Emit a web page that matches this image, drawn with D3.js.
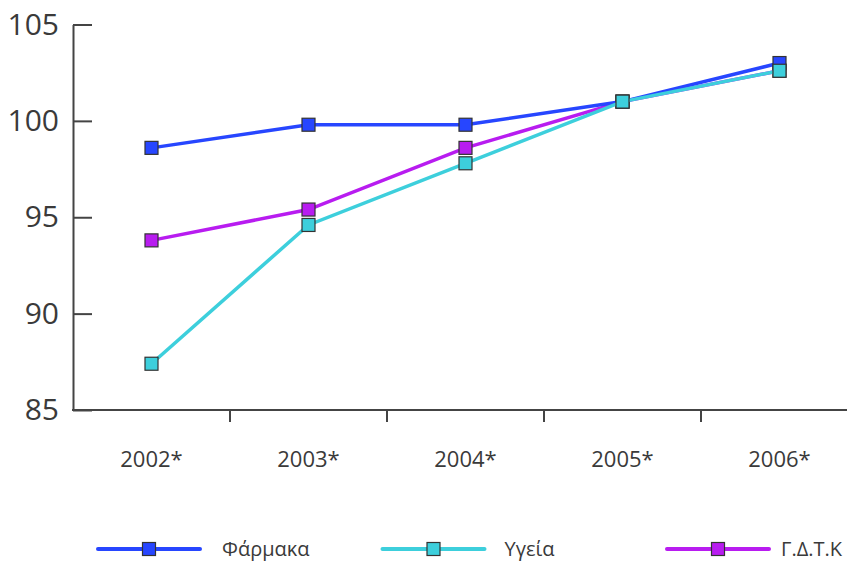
<!DOCTYPE html>
<html>
<head>
<meta charset="utf-8">
<script src="https://cdn.jsdelivr.net/npm/d3@7"></script>
<style>
  body { margin: 0; background: #fff; }
  svg { display: block; font-family: "Open Sans", sans-serif; }
</style>
</head>
<body>
<svg id="chart" width="847" height="561"></svg>
<script>
// values
var years = ["2002*", "2003*", "2004*", "2005*", "2006*"];
var farmaka = [98.6, 99.8, 99.8, 101.0, 103.0];
var ygeia = [87.4, 94.6, 97.8, 101.0, 102.6];
var gdtk = [93.8, 95.4, 98.6, 101.0, 102.6];
var yTicks = [85, 90, 95, 100, 105];

var series = [
    { name: "Φάρμακα", values: farmaka, color: "#2746ff", dx: 124 },
    { name: "Υγεία", values: ygeia, color: "#3dcfdc", dx: 122 },
    { name: "Γ.Δ.Τ.Κ", values: gdtk, color: "#b81cf0", dx: 114 }
];

var width = 847,
    height = 561,
    left = 73,
    axisColor = "#444",
    textColor = "#3a3a3a";

var svg = d3.select("#chart");

var x = d3.scaleBand()
    .domain(years)
    .range([left, left + 157 * years.length])
    .paddingInner(0)
    .paddingOuter(0);

var y = d3.scaleLinear()
    .domain([85, 105])
    .range([410, 24.5]);

function cx(i) { return x(years[i]) + x.bandwidth() / 2; }

// y axis
var yAxis = svg.append("g")
    .attr("transform", "translate(" + left + ",0)")
    .call(d3.axisLeft(y).tickValues(yTicks).tickSizeInner(-19).tickSizeOuter(0).tickPadding(14));

yAxis.select(".domain").attr("stroke", axisColor).attr("stroke-width", 2);
yAxis.selectAll(".tick line").attr("stroke", axisColor).attr("stroke-width", 2);
yAxis.selectAll(".tick text")
    .attr("fill", textColor)
    .style("font-size", "30px")
    .style("font-family", "Open Sans, sans-serif");

// x axis: baseline + ticks between categories
svg.append("line")
    .attr("x1", left - 1).attr("x2", width)
    .attr("y1", y(85)).attr("y2", y(85))
    .attr("stroke", axisColor).attr("stroke-width", 2);

svg.selectAll(".xtick")
    .data(years.slice(1))
    .enter().append("line")
    .attr("class", "xtick")
    .attr("x1", function(d) { return x(d); })
    .attr("x2", function(d) { return x(d); })
    .attr("y1", y(85))
    .attr("y2", y(85) + 12)
    .attr("stroke", axisColor).attr("stroke-width", 2);

svg.selectAll(".xlabel")
    .data(years)
    .enter().append("text")
    .attr("class", "xlabel")
    .attr("x", function(d, i) { return cx(i); })
    .attr("y", 467)
    .attr("text-anchor", "middle")
    .attr("fill", textColor)
    .style("font-size", "22px")
    .text(function(d) { return d; });

// lines, drawn purple first so the others sit on top
var drawOrder = [series[2], series[0], series[1]];

var line = d3.line()
    .x(function(d, i) { return cx(i); })
    .y(function(d) { return y(d); });

var markerSize = 13;

drawOrder.forEach(function(s) {
    var g = svg.append("g");

    g.append("path")
        .datum(s.values)
        .attr("d", line)
        .attr("fill", "none")
        .attr("stroke", s.color)
        .attr("stroke-width", 3.5);

    g.selectAll("rect")
        .data(s.values)
        .enter().append("rect")
        .attr("x", function(d, i) { return cx(i) - markerSize / 2; })
        .attr("y", function(d) { return y(d) - markerSize / 2; })
        .attr("width", markerSize)
        .attr("height", markerSize)
        .attr("fill", s.color)
        .attr("stroke", "#333")
        .attr("stroke-width", 1.2);
});

// legend
var legend = svg.selectAll(".legend")
    .data(series)
    .enter().append("g")
    .attr("class", "legend")
    .attr("transform", function(d, i) { return "translate(" + (98 + i * 284.5) + ",549)"; });

legend.append("line")
    .attr("x1", 0).attr("x2", 102)
    .attr("stroke", function(d) { return d.color; })
    .attr("stroke-width", 4)
    .attr("stroke-linecap", "round");

legend.append("rect")
    .attr("x", 51 - markerSize / 2)
    .attr("y", -markerSize / 2)
    .attr("width", markerSize)
    .attr("height", markerSize)
    .attr("fill", function(d) { return d.color; })
    .attr("stroke", "#333")
    .attr("stroke-width", 1.2);

legend.append("text")
    .attr("x", function(d) { return d.dx; })
    .attr("y", 7)
    .attr("fill", textColor)
    .style("font-size", "20px")
    .text(function(d) { return d.name; });
</script>
</body>
</html>
